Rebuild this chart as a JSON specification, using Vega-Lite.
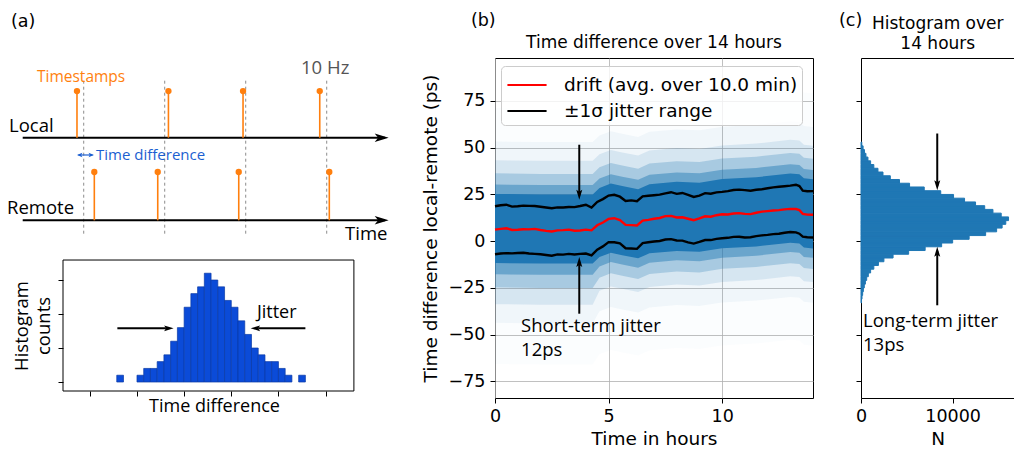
{
"$schema": "https://vega.github.io/schema/vega-lite/v6.json",
"background": "white",
"padding": {"left": 6, "top": 11, "right": 0, "bottom": 0},
"config": {
  "view": {"stroke": "#000000", "strokeWidth": 1},
  "axis": {"labelFont": "DejaVu Sans", "titleFont": "DejaVu Sans", "titleFontWeight": "normal", "labelFontSize": 17.5, "titleFontSize": 18.5, "labelColor": "#000000", "titleColor": "#000000", "tickColor": "#000000", "domainColor": "#000000", "tickSize": 5, "tickWidth": 1, "domainWidth": 1, "grid": false, "labelFlush": false},
  "text": {"font": "Open Sans"}
},
"resolve": {"legend": {"color": "independent"}},
"datasets": {
  "stems": [
    {"t": -8.3, "L0": 1.739, "L1": 2.72}, {"t": 104.6, "L0": 1.739, "L1": 2.72}, {"t": 196.7, "L0": 1.739, "L1": 2.72}, {"t": 291.4, "L0": 1.739, "L1": 2.72},
    {"t": 13.1, "L0": 0, "L1": 1.017}, {"t": 91.4, "L0": 0, "L1": 1.017}, {"t": 191.4, "L0": 0, "L1": 1.017}, {"t": 303.2, "L0": 0, "L1": 1.017}
  ],
  "hista": [
    {"x0": -3, "x1": -2, "n": 1}, {"x0": 0, "x1": 1, "n": 1}, {"x0": 1, "x1": 2, "n": 2}, {"x0": 2, "x1": 3, "n": 2}, {"x0": 3, "x1": 4, "n": 3},
    {"x0": 4, "x1": 5, "n": 4}, {"x0": 5, "x1": 6, "n": 6}, {"x0": 6, "x1": 7, "n": 8}, {"x0": 7, "x1": 8, "n": 11}, {"x0": 8, "x1": 9, "n": 13},
    {"x0": 9, "x1": 10, "n": 14}, {"x0": 10, "x1": 11, "n": 16}, {"x0": 11, "x1": 12, "n": 15}, {"x0": 12, "x1": 13, "n": 14}, {"x0": 13, "x1": 14, "n": 12},
    {"x0": 14, "x1": 15, "n": 11}, {"x0": 15, "x1": 16, "n": 9}, {"x0": 16, "x1": 17, "n": 7}, {"x0": 17, "x1": 18, "n": 5}, {"x0": 18, "x1": 19, "n": 4},
    {"x0": 19, "x1": 20, "n": 3}, {"x0": 20, "x1": 21, "n": 3}, {"x0": 21, "x1": 22, "n": 2}, {"x0": 22, "x1": 23, "n": 1}, {"x0": 24, "x1": 25, "n": 1}
  ],
  "lines": [
    {"t":0,"hi":18.7,"d":6.2,"lo":-7.0},{"t":0.25,"hi":19.2,"d":6.6,"lo":-6.6},{"t":0.5,"hi":19.5,"d":6.9,"lo":-6.4},{"t":0.75,"hi":18.5,"d":6.0,"lo":-6.5},
    {"t":1,"hi":18.7,"d":6.1,"lo":-6.3},{"t":1.25,"hi":19.0,"d":6.4,"lo":-6.2},{"t":1.5,"hi":18.9,"d":6.3,"lo":-6.6},{"t":1.75,"hi":18.8,"d":6.6,"lo":-6.8},
    {"t":2,"hi":18.4,"d":6.0,"lo":-7.0},{"t":2.25,"hi":18.0,"d":5.5,"lo":-7.4},{"t":2.5,"hi":17.6,"d":5.2,"lo":-7.8},{"t":2.75,"hi":18.1,"d":5.8,"lo":-7.1},
    {"t":3,"hi":18.0,"d":5.9,"lo":-7.2},{"t":3.25,"hi":18.3,"d":6.2,"lo":-6.8},{"t":3.5,"hi":18.2,"d":5.6,"lo":-7.1},{"t":3.75,"hi":18.8,"d":5.7,"lo":-6.8},
    {"t":4,"hi":19.5,"d":6.2,"lo":-6.6},{"t":4.25,"hi":18.0,"d":5.8,"lo":-7.6},{"t":4.5,"hi":21.0,"d":8.5,"lo":-4.5},{"t":4.75,"hi":22.5,"d":10.0,"lo":-2.8},
    {"t":5,"hi":24.4,"d":11.9,"lo":-0.5},{"t":5.25,"hi":24.8,"d":12.3,"lo":-0.6},{"t":5.5,"hi":23.8,"d":11.3,"lo":-1.2},{"t":5.75,"hi":21.5,"d":8.7,"lo":-3.8},
    {"t":6,"hi":21.8,"d":8.6,"lo":-3.9},{"t":6.25,"hi":21.4,"d":8.4,"lo":-4.1},{"t":6.5,"hi":24.0,"d":11.0,"lo":-1.0},{"t":6.75,"hi":24.3,"d":11.4,"lo":-0.6},
    {"t":7,"hi":24.6,"d":12.0,"lo":-0.2},{"t":7.25,"hi":24.9,"d":12.4,"lo":0.1},{"t":7.5,"hi":25.6,"d":13.4,"lo":0.9},{"t":7.75,"hi":26.2,"d":13.5,"lo":1.1},
    {"t":8,"hi":25.3,"d":12.7,"lo":0.4},{"t":8.25,"hi":25.8,"d":12.8,"lo":0.3},{"t":8.5,"hi":24.8,"d":12.0,"lo":-0.6},{"t":8.75,"hi":23.7,"d":11.2,"lo":-1.3},
    {"t":9,"hi":24.4,"d":12.2,"lo":-0.4},{"t":9.25,"hi":25.7,"d":13.3,"lo":0.6},{"t":9.5,"hi":25.4,"d":13.1,"lo":0.6},{"t":9.75,"hi":26.1,"d":13.9,"lo":1.2},
    {"t":10,"hi":26.4,"d":14.4,"lo":1.6},{"t":10.25,"hi":26.8,"d":14.3,"lo":1.8},{"t":10.5,"hi":27.4,"d":14.8,"lo":2.3},{"t":10.75,"hi":27.6,"d":15.0,"lo":2.4},
    {"t":11,"hi":27.3,"d":14.6,"lo":2.0},{"t":11.25,"hi":27.0,"d":14.5,"lo":2.1},{"t":11.5,"hi":27.5,"d":15.2,"lo":2.7},{"t":11.75,"hi":27.8,"d":15.8,"lo":3.1},
    {"t":12,"hi":28.3,"d":16.1,"lo":3.4},{"t":12.25,"hi":28.8,"d":16.4,"lo":3.8},{"t":12.5,"hi":29.1,"d":16.6,"lo":4.0},{"t":12.75,"hi":29.4,"d":17.0,"lo":4.5},
    {"t":13,"hi":29.7,"d":17.3,"lo":4.9},{"t":13.25,"hi":30.2,"d":17.2,"lo":4.7},{"t":13.4,"hi":29.5,"d":16.6,"lo":4.0},{"t":13.55,"hi":27.0,"d":14.6,"lo":2.4},
    {"t":13.75,"hi":26.7,"d":14.2,"lo":2.1},{"t":14,"hi":26.8,"d":14.1,"lo":2.0}
  ],
  "bands": [
    {"t":0,"b":0,"lo":-65.7,"hi":71.3},{"t":0,"b":1,"lo":-43.7,"hi":53.3},{"t":0,"b":2,"lo":-33.7,"hi":43.3},{"t":0,"b":3,"lo":-24.7,"hi":36.3},{"t":0,"b":4,"lo":-17.7,"hi":30.3},{"t":0,"b":5,"lo":-11.7,"hi":25.3},
    {"t":2,"b":0,"lo":-66,"hi":71},{"t":2,"b":1,"lo":-44,"hi":53},{"t":2,"b":2,"lo":-34,"hi":43},{"t":2,"b":3,"lo":-25,"hi":36},{"t":2,"b":4,"lo":-18,"hi":30},{"t":2,"b":5,"lo":-12,"hi":25},
    {"t":4.3,"b":0,"lo":-66,"hi":71},{"t":4.3,"b":1,"lo":-44,"hi":53},{"t":4.3,"b":2,"lo":-34,"hi":43},{"t":4.3,"b":3,"lo":-25,"hi":36},{"t":4.3,"b":4,"lo":-18,"hi":30},{"t":4.3,"b":5,"lo":-12,"hi":25},
    {"t":4.6,"b":0,"lo":-60.5,"hi":74.5},{"t":4.6,"b":1,"lo":-37.5,"hi":56.5},{"t":4.6,"b":2,"lo":-26.5,"hi":46.5},{"t":4.6,"b":3,"lo":-19.5,"hi":39.5},{"t":4.6,"b":4,"lo":-13.5,"hi":33.5},{"t":4.6,"b":5,"lo":-8.5,"hi":28.5},
    {"t":5.1,"b":0,"lo":-58.2,"hi":76.8},{"t":5.1,"b":1,"lo":-35.2,"hi":58.8},{"t":5.1,"b":2,"lo":-24.2,"hi":48.8},{"t":5.1,"b":3,"lo":-17.2,"hi":41.8},{"t":5.1,"b":4,"lo":-11.2,"hi":35.8},{"t":5.1,"b":5,"lo":-6.2,"hi":30.8},
    {"t":5.6,"b":0,"lo":-59.5,"hi":75.5},{"t":5.6,"b":1,"lo":-36.5,"hi":57.5},{"t":5.6,"b":2,"lo":-25.5,"hi":47.5},{"t":5.6,"b":3,"lo":-18.5,"hi":40.5},{"t":5.6,"b":4,"lo":-12.5,"hi":34.5},{"t":5.6,"b":5,"lo":-7.5,"hi":29.5},
    {"t":6.3,"b":0,"lo":-61.2,"hi":73.8},{"t":6.3,"b":1,"lo":-38.2,"hi":55.8},{"t":6.3,"b":2,"lo":-27.2,"hi":45.8},{"t":6.3,"b":3,"lo":-20.2,"hi":38.8},{"t":6.3,"b":4,"lo":-14.2,"hi":32.8},{"t":6.3,"b":5,"lo":-9.2,"hi":27.8},
    {"t":6.8,"b":0,"lo":-58.5,"hi":76.5},{"t":6.8,"b":1,"lo":-35.5,"hi":58.5},{"t":6.8,"b":2,"lo":-24.5,"hi":48.5},{"t":6.8,"b":3,"lo":-17.5,"hi":41.5},{"t":6.8,"b":4,"lo":-11.5,"hi":35.5},{"t":6.8,"b":5,"lo":-6.5,"hi":30.5},
    {"t":8,"b":0,"lo":-57.2,"hi":77.8},{"t":8,"b":1,"lo":-34.2,"hi":59.8},{"t":8,"b":2,"lo":-23.2,"hi":49.8},{"t":8,"b":3,"lo":-16.2,"hi":42.8},{"t":8,"b":4,"lo":-10.2,"hi":36.8},{"t":8,"b":5,"lo":-5.2,"hi":31.8},
    {"t":9,"b":0,"lo":-57.7,"hi":77.3},{"t":9,"b":1,"lo":-34.7,"hi":59.3},{"t":9,"b":2,"lo":-23.7,"hi":49.3},{"t":9,"b":3,"lo":-16.7,"hi":42.3},{"t":9,"b":4,"lo":-10.7,"hi":36.3},{"t":9,"b":5,"lo":-5.7,"hi":31.3},
    {"t":10,"b":0,"lo":-55.8,"hi":79.2},{"t":10,"b":1,"lo":-32.8,"hi":61.2},{"t":10,"b":2,"lo":-21.8,"hi":51.2},{"t":10,"b":3,"lo":-14.8,"hi":44.2},{"t":10,"b":4,"lo":-8.8,"hi":38.2},{"t":10,"b":5,"lo":-3.8,"hi":33.2},
    {"t":11.5,"b":0,"lo":-54.8,"hi":80.2},{"t":11.5,"b":1,"lo":-31.8,"hi":62.2},{"t":11.5,"b":2,"lo":-20.8,"hi":52.2},{"t":11.5,"b":3,"lo":-13.8,"hi":45.2},{"t":11.5,"b":4,"lo":-7.8,"hi":39.2},{"t":11.5,"b":5,"lo":-2.8,"hi":34.2},
    {"t":13,"b":0,"lo":-52.8,"hi":82.2},{"t":13,"b":1,"lo":-29.8,"hi":64.2},{"t":13,"b":2,"lo":-18.8,"hi":54.2},{"t":13,"b":3,"lo":-11.8,"hi":47.2},{"t":13,"b":4,"lo":-5.8,"hi":41.2},{"t":13,"b":5,"lo":-0.8,"hi":36.2},
    {"t":13.4,"b":0,"lo":-53.2,"hi":81.8},{"t":13.4,"b":1,"lo":-30.2,"hi":63.8},{"t":13.4,"b":2,"lo":-19.2,"hi":53.8},{"t":13.4,"b":3,"lo":-12.2,"hi":46.8},{"t":13.4,"b":4,"lo":-6.2,"hi":40.8},{"t":13.4,"b":5,"lo":-1.2,"hi":35.8},
    {"t":13.6,"b":0,"lo":-55.4,"hi":79.6},{"t":13.6,"b":1,"lo":-32.4,"hi":61.6},{"t":13.6,"b":2,"lo":-21.4,"hi":51.6},{"t":13.6,"b":3,"lo":-14.4,"hi":44.6},{"t":13.6,"b":4,"lo":-8.4,"hi":38.6},{"t":13.6,"b":5,"lo":-3.4,"hi":33.6},
    {"t":14,"b":0,"lo":-55.9,"hi":79.1},{"t":14,"b":1,"lo":-32.9,"hi":61.1},{"t":14,"b":2,"lo":-21.9,"hi":51.1},{"t":14,"b":3,"lo":-14.9,"hi":44.1},{"t":14,"b":4,"lo":-8.9,"hi":38.1},{"t":14,"b":5,"lo":-3.9,"hi":33.1}
  ],
  "histc": [
    {"lo":-33,"hi":-31,"n":50},{"lo":-31,"hi":-29,"n":110},{"lo":-29,"hi":-27,"n":180},{"lo":-27,"hi":-25,"n":260},{"lo":-25,"hi":-23,"n":360},
    {"lo":-23,"hi":-21,"n":480},{"lo":-21,"hi":-19,"n":620},{"lo":-19,"hi":-17,"n":800},{"lo":-17,"hi":-15,"n":1050},{"lo":-15,"hi":-13,"n":1400},
    {"lo":-13,"hi":-11,"n":1900},{"lo":-11,"hi":-9,"n":2500},{"lo":-9,"hi":-7,"n":3500},{"lo":-7,"hi":-5,"n":5200},{"lo":-5,"hi":-3,"n":7000},
    {"lo":-3,"hi":-1,"n":8800},{"lo":-1,"hi":1,"n":10000},{"lo":1,"hi":3,"n":11800},{"lo":3,"hi":5,"n":13600},{"lo":5,"hi":7,"n":14800},
    {"lo":7,"hi":9,"n":15400},{"lo":9,"hi":11,"n":15800},{"lo":11,"hi":13,"n":16100},{"lo":13,"hi":15,"n":15300},{"lo":15,"hi":17,"n":14400},
    {"lo":17,"hi":19,"n":13500},{"lo":19,"hi":21,"n":12500},{"lo":21,"hi":23,"n":11300},{"lo":23,"hi":25,"n":10100},{"lo":25,"hi":27,"n":8700},
    {"lo":27,"hi":29,"n":6900},{"lo":29,"hi":31,"n":5300},{"lo":31,"hi":33,"n":4200},{"lo":33,"hi":35,"n":3200},{"lo":35,"hi":37,"n":2400},
    {"lo":37,"hi":39,"n":1850},{"lo":39,"hi":41,"n":1400},{"lo":41,"hi":43,"n":1050},{"lo":43,"hi":45,"n":760},{"lo":45,"hi":47,"n":540},
    {"lo":47,"hi":49,"n":380},{"lo":49,"hi":51,"n":230},{"lo":51,"hi":53,"n":90}
  ]
},
"spacing": 48,
"bounds": "flush",
"hconcat": [
  {
    "width": 384, "height": 333,
    "view": {"stroke": null},
    "resolve": {"scale": {"x": "independent", "y": "independent"}, "axis": {"x": "independent", "y": "independent"}},
    "layer": [
      {"data": {"name": "hista"},
       "mark": {"type": "rect", "color": "#0b4bd8", "stroke": "#0a3aa5", "strokeWidth": 0.7},
       "encoding": {"x": {"field": "x0", "type": "quantitative", "scale": {"domain": [-10.98, 46.02], "nice": false, "zero": false}, "axis": {"values": [-7, 0, 7, 14, 21, 28], "labels": false, "domain": false, "title": "Time difference", "titleFont": "Open Sans", "titleFontSize": 18, "titlePadding": 1, "titleX": 151}},
                    "x2": {"field": "x1"},
                    "y": {"field": "n", "type": "quantitative", "scale": {"domain": [-1.32, 47.65], "nice": false, "zero": false}, "axis": {"values": [0, 5, 10, 15], "labels": false, "domain": false, "title": ["Histogram", "counts"], "titleFont": "Open Sans", "titleFontSize": 18.5, "titlePadding": 4, "titleLineHeight": 22, "titleY": 267.5}},
                    "y2": {"datum": 0}}},
      {"data": {"values": [{"x0": -10.98, "x1": 32.2, "n0": -1.32, "n1": 17.94}]},
       "mark": {"type": "rect", "filled": false, "color": "#000000", "strokeWidth": 1},
       "encoding": {"x": {"field": "x0", "type": "quantitative", "scale": {"domain": [-10.98, 46.02], "nice": false, "zero": false}, "axis": null},
                    "x2": {"field": "x1"},
                    "y": {"field": "n0", "type": "quantitative", "scale": {"domain": [-1.32, 47.65], "nice": false, "zero": false}, "axis": null},
                    "y2": {"field": "n1"}}},
      {"data": {"values": [{"x0": -2.91, "x1": 4.3, "n": 7.9}, {"x0": 25.0, "x1": 18.0, "n": 7.9}]},
       "mark": {"type": "rule", "color": "#000000", "strokeWidth": 2},
       "encoding": {"x": {"field": "x0", "type": "quantitative", "scale": {"domain": [-10.98, 46.02], "nice": false, "zero": false}, "axis": null},
                    "x2": {"field": "x1"},
                    "y": {"field": "n", "type": "quantitative", "scale": {"domain": [-1.32, 47.65], "nice": false, "zero": false}, "axis": null}}},
      {"data": {"values": [{"x": 5.44, "n": 7.9}]},
       "mark": {"type": "point", "filled": true, "opacity": 1, "color": "#000000", "strokeWidth": 0, "size": 90, "angle": 0, "shape": "M0,0L-2,-0.6L-1.6,0L-2,0.6Z"},
       "encoding": {"x": {"field": "x", "type": "quantitative", "scale": {"domain": [-10.98, 46.02], "nice": false, "zero": false}, "axis": null},
                    "y": {"field": "n", "type": "quantitative", "scale": {"domain": [-1.32, 47.65], "nice": false, "zero": false}, "axis": null}}},
      {"data": {"values": [{"x": 16.87, "n": 7.9}]},
       "mark": {"type": "point", "filled": true, "opacity": 1, "color": "#000000", "strokeWidth": 0, "size": 90, "angle": 180, "shape": "M0,0L-2,-0.6L-1.6,0L-2,0.6Z"},
       "encoding": {"x": {"field": "x", "type": "quantitative", "scale": {"domain": [-10.98, 46.02], "nice": false, "zero": false}, "axis": null},
                    "y": {"field": "n", "type": "quantitative", "scale": {"domain": [-1.32, 47.65], "nice": false, "zero": false}, "axis": null}}},
      {"data": {"values": [{"x": 17.8, "n": 10.1, "label": "Jitter"}]},
       "mark": {"type": "text", "align": "left", "baseline": "middle", "font": "Open Sans", "fontSize": 18, "color": "#000000"},
       "encoding": {"x": {"field": "x", "type": "quantitative", "scale": {"domain": [-10.98, 46.02], "nice": false, "zero": false}, "axis": null},
                    "y": {"field": "n", "type": "quantitative", "scale": {"domain": [-1.32, 47.65], "nice": false, "zero": false}, "axis": null},
                    "text": {"field": "label"}}},
      {"data": {"values": [{"t": 0, "L0": -0.282, "L1": 2.954}, {"t": 100, "L0": -0.282, "L1": 2.954}, {"t": 200, "L0": -0.282, "L1": 2.954}, {"t": 300, "L0": -0.282, "L1": 2.954}]},
       "mark": {"type": "rule", "color": "#8c8c8c", "strokeWidth": 1, "strokeDash": [3, 3]},
       "encoding": {"x": {"field": "t", "type": "quantitative", "scale": {"domain": [-25.56, 448.5], "nice": false, "zero": false}, "axis": null},
                    "y": {"field": "L0", "type": "quantitative", "scale": {"domain": [-3.594, 3.417], "nice": false, "zero": false}, "axis": null},
                    "y2": {"field": "L1"}}},
      {"data": {"values": [{"t0": -75.3, "t1": 372, "L": 1.739}, {"t0": -75.3, "t1": 372, "L": 0}]},
       "mark": {"type": "rule", "color": "#000000", "strokeWidth": 2},
       "encoding": {"x": {"field": "t0", "type": "quantitative", "scale": {"domain": [-25.56, 448.5], "nice": false, "zero": false}, "axis": null},
                    "x2": {"field": "t1"},
                    "y": {"field": "L", "type": "quantitative", "scale": {"domain": [-3.594, 3.417], "nice": false, "zero": false}, "axis": null}}},
      {"data": {"values": [{"t": 376.5, "L": 1.739}, {"t": 376.5, "L": 0}]},
       "mark": {"type": "point", "filled": true, "opacity": 1, "color": "#000000", "strokeWidth": 0, "size": 196, "shape": "M0,0L-2,-0.6L-1.5,0L-2,0.6Z"},
       "encoding": {"x": {"field": "t", "type": "quantitative", "scale": {"domain": [-25.56, 448.5], "nice": false, "zero": false}, "axis": null},
                    "y": {"field": "L", "type": "quantitative", "scale": {"domain": [-3.594, 3.417], "nice": false, "zero": false}, "axis": null}}},
      {"data": {"name": "stems"},
       "mark": {"type": "rule", "color": "#ff7f0e", "strokeWidth": 1.6},
       "encoding": {"x": {"field": "t", "type": "quantitative", "scale": {"domain": [-25.56, 448.5], "nice": false, "zero": false}, "axis": null},
                    "y": {"field": "L0", "type": "quantitative", "scale": {"domain": [-3.594, 3.417], "nice": false, "zero": false}, "axis": null},
                    "y2": {"field": "L1"}}},
      {"data": {"name": "stems"},
       "mark": {"type": "circle", "color": "#ff7f0e", "opacity": 1, "size": 40},
       "encoding": {"x": {"field": "t", "type": "quantitative", "scale": {"domain": [-25.56, 448.5], "nice": false, "zero": false}, "axis": null},
                    "y": {"field": "L1", "type": "quantitative", "scale": {"domain": [-3.594, 3.417], "nice": false, "zero": false}, "axis": null}}},
      {"data": {"values": [{"t0": -6.5, "t1": 10.9, "L": 1.375}]},
       "mark": {"type": "rule", "color": "#1c5fd1", "strokeWidth": 1.2},
       "encoding": {"x": {"field": "t0", "type": "quantitative", "scale": {"domain": [-25.56, 448.5], "nice": false, "zero": false}, "axis": null},
                    "x2": {"field": "t1"},
                    "y": {"field": "L", "type": "quantitative", "scale": {"domain": [-3.594, 3.417], "nice": false, "zero": false}, "axis": null}}},
      {"data": {"values": [{"t": 12.7, "L": 1.375}]},
       "mark": {"type": "point", "filled": true, "opacity": 1, "color": "#1c5fd1", "strokeWidth": 0, "size": 30, "angle": 0, "shape": "M0,0L-2,-0.8L-1.5,0L-2,0.8Z"},
       "encoding": {"x": {"field": "t", "type": "quantitative", "scale": {"domain": [-25.56, 448.5], "nice": false, "zero": false}, "axis": null},
                    "y": {"field": "L", "type": "quantitative", "scale": {"domain": [-3.594, 3.417], "nice": false, "zero": false}, "axis": null}}},
      {"data": {"values": [{"t": -8.3, "L": 1.375}]},
       "mark": {"type": "point", "filled": true, "opacity": 1, "color": "#1c5fd1", "strokeWidth": 0, "size": 30, "angle": 180, "shape": "M0,0L-2,-0.8L-1.5,0L-2,0.8Z"},
       "encoding": {"x": {"field": "t", "type": "quantitative", "scale": {"domain": [-25.56, 448.5], "nice": false, "zero": false}, "axis": null},
                    "y": {"field": "L", "type": "quantitative", "scale": {"domain": [-3.594, 3.417], "nice": false, "zero": false}, "axis": null}}},
      {"data": {"values": [{"t": -92.2, "L": 1.985, "label": "Local"}, {"t": -94.7, "L": 0.259, "label": "Remote"}, {"t": 322.6, "L": -0.289, "label": "Time"}]},
       "mark": {"type": "text", "align": "left", "baseline": "middle", "font": "Open Sans", "fontSize": 18.5, "color": "#000000"},
       "encoding": {"x": {"field": "t", "type": "quantitative", "scale": {"domain": [-25.56, 448.5], "nice": false, "zero": false}, "axis": null},
                    "y": {"field": "L", "type": "quantitative", "scale": {"domain": [-3.594, 3.417], "nice": false, "zero": false}, "axis": null},
                    "text": {"field": "label"}}},
      {"data": {"values": [{"t": -57.7, "L": 3.017, "label": "Timestamps"}]},
       "mark": {"type": "text", "align": "left", "baseline": "middle", "font": "Open Sans", "fontSize": 15.5, "color": "#ff7f0e"},
       "encoding": {"x": {"field": "t", "type": "quantitative", "scale": {"domain": [-25.56, 448.5], "nice": false, "zero": false}, "axis": null},
                    "y": {"field": "L", "type": "quantitative", "scale": {"domain": [-3.594, 3.417], "nice": false, "zero": false}, "axis": null},
                    "text": {"field": "label"}}},
      {"data": {"values": [{"t": 268.3, "L": 3.206, "label": "10 Hz"}]},
       "mark": {"type": "text", "align": "left", "baseline": "middle", "font": "Open Sans", "fontSize": 18.5, "color": "#555555"},
       "encoding": {"x": {"field": "t", "type": "quantitative", "scale": {"domain": [-25.56, 448.5], "nice": false, "zero": false}, "axis": null},
                    "y": {"field": "L", "type": "quantitative", "scale": {"domain": [-3.594, 3.417], "nice": false, "zero": false}, "axis": null},
                    "text": {"field": "label"}}},
      {"data": {"values": [{"t": 15.2, "L": 1.375, "label": "Time difference"}]},
       "mark": {"type": "text", "align": "left", "baseline": "middle", "font": "Open Sans", "fontSize": 15, "color": "#1c5fd1"},
       "encoding": {"x": {"field": "t", "type": "quantitative", "scale": {"domain": [-25.56, 448.5], "nice": false, "zero": false}, "axis": null},
                    "y": {"field": "L", "type": "quantitative", "scale": {"domain": [-3.594, 3.417], "nice": false, "zero": false}, "axis": null},
                    "text": {"field": "label"}}},
      {"data": {"values": [{"t": -89.8, "L": 4.185, "label": "(a)"}]},
       "mark": {"type": "text", "align": "left", "baseline": "middle", "font": "DejaVu Sans", "fontSize": 17.5, "color": "#000000"},
       "encoding": {"x": {"field": "t", "type": "quantitative", "scale": {"domain": [-25.56, 448.5], "nice": false, "zero": false}, "axis": null},
                    "y": {"field": "L", "type": "quantitative", "scale": {"domain": [-3.594, 3.417], "nice": false, "zero": false}, "axis": null},
                    "text": {"field": "label"}}}
    ]
  },
  {
    "width": 318, "height": 340,
    "layer": [
      {"data": {"name": "bands"},
       "mark": {"type": "area", "clip": true, "opacity": 1},
       "encoding": {
         "x": {"field": "t", "type": "quantitative", "scale": {"domain": [0, 14], "nice": false, "zero": false}, "axis": {"values": [0, 5, 10], "grid": true, "gridColor": "#b0b0b0", "gridWidth": 0.8, "domain": false, "title": "Time in hours", "labelPadding": 4, "titlePadding": 5}},
         "y": {"field": "lo", "type": "quantitative", "scale": {"domain": [-83.9, 98], "nice": false, "zero": false}, "axis": {"values": [-75, -50, -25, 0, 25, 50, 75], "grid": true, "gridColor": "#b0b0b0", "gridWidth": 0.8, "domain": false, "title": "Time difference local-remote (ps)", "labelPadding": 5, "titlePadding": 8}},
         "y2": {"field": "hi"},
         "fill": {"field": "b", "type": "nominal", "scale": {"domain": [0, 1, 2, 3, 4, 5], "range": ["rgba(31,119,180,0.015)", "rgba(31,119,180,0.05)", "rgba(31,119,180,0.12)", "rgba(31,119,180,0.25)", "rgba(31,119,180,0.45)", "rgba(31,119,180,1)"]}, "legend": null}
       }},
      {"data": {"name": "lines"},
       "transform": [{"fold": ["lo", "hi"], "as": ["k", "v"]}],
       "mark": {"type": "line", "strokeWidth": 2.4},
       "encoding": {
         "x": {"field": "t", "type": "quantitative", "scale": {"domain": [0, 14], "nice": false, "zero": false}},
         "y": {"field": "v", "type": "quantitative", "scale": {"domain": [-83.9, 98], "nice": false, "zero": false}},
         "detail": {"field": "k"},
         "color": {"datum": "±1σ jitter range", "type": "nominal", "scale": {"domain": ["drift (avg. over 10.0 min)", "±1σ jitter range"], "range": ["#ff0000", "#000000"]},
                   "legend": {"orient": "none", "legendX": 6, "legendY": 8, "title": null, "fillColor": "rgba(255,255,255,0.8)", "strokeColor": "#cccccc", "cornerRadius": 4, "padding": 4, "labelFont": "DejaVu Sans", "labelFontSize": 18.5, "labelColor": "#000000", "labelOffset": 22, "symbolType": "M-1.45,0L1.45,0", "symbolSize": 729, "symbolOffset": 7, "symbolStrokeWidth": 2.2, "rowPadding": 1, "labelLimit": 400}}
       }},
      {"data": {"name": "lines"},
       "mark": {"type": "line", "strokeWidth": 2.4},
       "encoding": {
         "x": {"field": "t", "type": "quantitative", "scale": {"domain": [0, 14], "nice": false, "zero": false}},
         "y": {"field": "d", "type": "quantitative", "scale": {"domain": [-83.9, 98], "nice": false, "zero": false}},
         "color": {"datum": "drift (avg. over 10.0 min)", "type": "nominal"}
       }},
      {"data": {"values": [{"t": 3.71, "v0": 51.6, "v1": 24.5}, {"t": 3.71, "v0": -38.8, "v1": -11}]},
       "mark": {"type": "rule", "color": "#000000", "strokeWidth": 2},
       "encoding": {
         "x": {"field": "t", "type": "quantitative", "scale": {"domain": [0, 14], "nice": false, "zero": false}},
         "y": {"field": "v0", "type": "quantitative", "scale": {"domain": [-83.9, 98], "nice": false, "zero": false}},
         "y2": {"field": "v1"}
       }},
      {"data": {"values": [{"t": 3.71, "v": 22.1}]},
       "mark": {"type": "point", "filled": true, "opacity": 1, "color": "#000000", "strokeWidth": 0, "size": 100, "angle": 90, "shape": "M0,0L-2,-0.6L-1.6,0L-2,0.6Z"},
       "encoding": {
         "x": {"field": "t", "type": "quantitative", "scale": {"domain": [0, 14], "nice": false, "zero": false}},
         "y": {"field": "v", "type": "quantitative", "scale": {"domain": [-83.9, 98], "nice": false, "zero": false}}
       }},
      {"data": {"values": [{"t": 3.71, "v": -8.4}]},
       "mark": {"type": "point", "filled": true, "opacity": 1, "color": "#000000", "strokeWidth": 0, "size": 100, "angle": 270, "shape": "M0,0L-2,-0.6L-1.6,0L-2,0.6Z"},
       "encoding": {
         "x": {"field": "t", "type": "quantitative", "scale": {"domain": [0, 14], "nice": false, "zero": false}},
         "y": {"field": "v", "type": "quantitative", "scale": {"domain": [-83.9, 98], "nice": false, "zero": false}}
       }},
      {"data": {"values": [{"t": 1.15, "v": -45.3, "label": "Short-term jitter"}, {"t": 1.15, "v": -58.2, "label": "12ps"}]},
       "mark": {"type": "text", "align": "left", "baseline": "middle", "font": "Open Sans", "fontSize": 18.5, "color": "#000000"},
       "encoding": {
         "x": {"field": "t", "type": "quantitative", "scale": {"domain": [0, 14], "nice": false, "zero": false}},
         "y": {"field": "v", "type": "quantitative", "scale": {"domain": [-83.9, 98], "nice": false, "zero": false}},
         "text": {"field": "label"}
       }},
      {"data": {"values": [{"t": -1.06, "v": 118, "label": "(b)"}]},
       "mark": {"type": "text", "align": "left", "baseline": "middle", "font": "DejaVu Sans", "fontSize": 17.5, "color": "#000000"},
       "encoding": {
         "x": {"field": "t", "type": "quantitative", "scale": {"domain": [0, 14], "nice": false, "zero": false}},
         "y": {"field": "v", "type": "quantitative", "scale": {"domain": [-83.9, 98], "nice": false, "zero": false}},
         "text": {"field": "label"}
       }},
      {"data": {"values": [{"t": 7, "v": 106, "label": "Time difference over 14 hours"}]},
       "mark": {"type": "text", "align": "center", "baseline": "middle", "font": "DejaVu Sans", "fontSize": 17, "color": "#000000"},
       "encoding": {
         "x": {"field": "t", "type": "quantitative", "scale": {"domain": [0, 14], "nice": false, "zero": false}},
         "y": {"field": "v", "type": "quantitative", "scale": {"domain": [-83.9, 98], "nice": false, "zero": false}},
         "text": {"field": "label"}
       }}
    ]
  },
  {
    "width": 153.5, "height": 340,
    "view": {"stroke": null},
    "resolve": {"axis": {"x": "independent"}},
    "layer": [
      {"data": {"name": "histc"},
       "mark": {"type": "rect", "color": "#1f77b4", "stroke": "#1f77b4", "strokeWidth": 1},
       "encoding": {
         "x": {"field": "n", "type": "quantitative", "scale": {"domain": [0, 16750], "nice": false, "zero": false}, "axis": {"values": [0, 10000], "format": "d", "title": "N", "domain": true, "labelPadding": 4, "titlePadding": 5}},
         "x2": {"datum": 0},
         "y": {"field": "lo", "type": "quantitative", "scale": {"domain": [-83.9, 98], "nice": false, "zero": false}, "axis": {"values": [-75, -50, -25, 0, 25, 50, 75], "labels": false, "title": null, "domain": true}},
         "y2": {"field": "hi"}
       }},
      {"data": {"values": [{"n": 8320, "v0": 57.6, "v1": 29.5}, {"n": 8320, "v0": -34.3, "v1": -5.3}]},
       "mark": {"type": "rule", "color": "#000000", "strokeWidth": 2},
       "encoding": {
         "x": {"field": "n", "type": "quantitative", "scale": {"domain": [0, 16750], "nice": false, "zero": false}, "axis": null},
         "y": {"field": "v0", "type": "quantitative", "scale": {"domain": [-83.9, 98], "nice": false, "zero": false}, "title": null},
         "y2": {"field": "v1"}
       }},
      {"data": {"values": [{"n": 8320, "v": 27.3}]},
       "mark": {"type": "point", "filled": true, "opacity": 1, "color": "#000000", "strokeWidth": 0, "size": 100, "angle": 90, "shape": "M0,0L-2,-0.6L-1.6,0L-2,0.6Z"},
       "encoding": {
         "x": {"field": "n", "type": "quantitative", "scale": {"domain": [0, 16750], "nice": false, "zero": false}, "axis": null},
         "y": {"field": "v", "type": "quantitative", "scale": {"domain": [-83.9, 98], "nice": false, "zero": false}, "title": null}
       }},
      {"data": {"values": [{"n": 8320, "v": -3.0}]},
       "mark": {"type": "point", "filled": true, "opacity": 1, "color": "#000000", "strokeWidth": 0, "size": 100, "angle": 270, "shape": "M0,0L-2,-0.6L-1.6,0L-2,0.6Z"},
       "encoding": {
         "x": {"field": "n", "type": "quantitative", "scale": {"domain": [0, 16750], "nice": false, "zero": false}, "axis": null},
         "y": {"field": "v", "type": "quantitative", "scale": {"domain": [-83.9, 98], "nice": false, "zero": false}, "title": null}
       }},
      {"data": {"values": [{"n": 220, "v": -42.8, "label": "Long-term jitter"}, {"n": 220, "v": -55.7, "label": "13ps"}]},
       "mark": {"type": "text", "align": "left", "baseline": "middle", "font": "Open Sans", "fontSize": 18.5, "color": "#000000"},
       "encoding": {
         "x": {"field": "n", "type": "quantitative", "scale": {"domain": [0, 16750], "nice": false, "zero": false}, "axis": {"orient": "top", "labels": false, "ticks": false, "domain": true, "title": null, "grid": false}},
         "y": {"field": "v", "type": "quantitative", "scale": {"domain": [-83.9, 98], "nice": false, "zero": false}, "title": null},
         "text": {"field": "label"}
       }},
      {"data": {"values": [{"n": -2400, "v": 118, "label": "(c)"}]},
       "mark": {"type": "text", "align": "left", "baseline": "middle", "font": "DejaVu Sans", "fontSize": 17.5, "color": "#000000"},
       "encoding": {
         "x": {"field": "n", "type": "quantitative", "scale": {"domain": [0, 16750], "nice": false, "zero": false}, "axis": null},
         "y": {"field": "v", "type": "quantitative", "scale": {"domain": [-83.9, 98], "nice": false, "zero": false}, "title": null},
         "text": {"field": "label"}
       }},
      {"data": {"values": [{"n": 8375, "v": 116.2, "label": "Histogram over"}, {"n": 8375, "v": 105.5, "label": "14 hours"}]},
       "mark": {"type": "text", "align": "center", "baseline": "middle", "font": "DejaVu Sans", "fontSize": 17, "color": "#000000"},
       "encoding": {
         "x": {"field": "n", "type": "quantitative", "scale": {"domain": [0, 16750], "nice": false, "zero": false}, "axis": null},
         "y": {"field": "v", "type": "quantitative", "scale": {"domain": [-83.9, 98], "nice": false, "zero": false}, "title": null},
         "text": {"field": "label"}
       }}
    ]
  }
]
}
